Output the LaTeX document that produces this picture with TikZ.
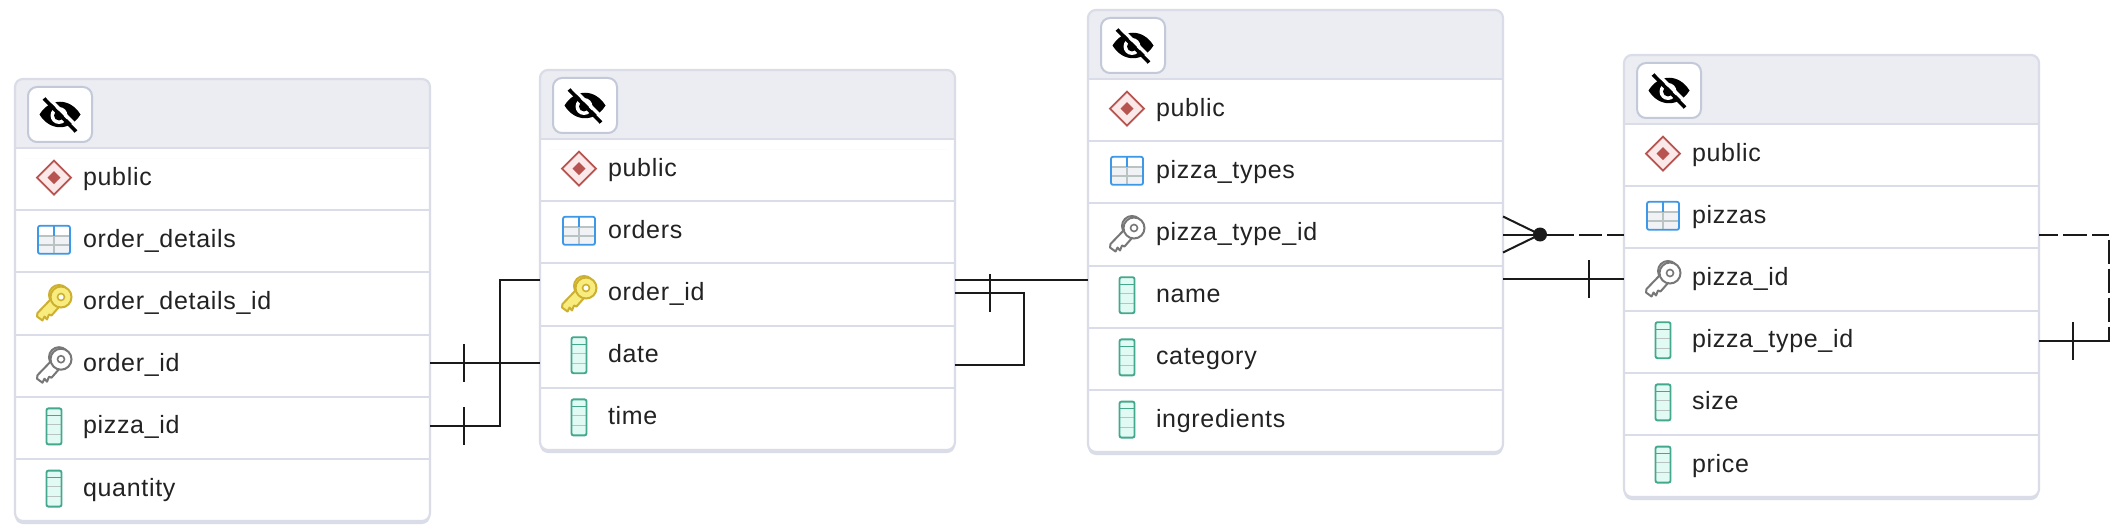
\documentclass[tikz,border=0pt]{standalone}
\usepackage{fontspec}
\setmainfont[LetterSpace=2.8]{Liberation Sans}
\definecolor{hdrfill}{HTML}{EBEDF2}
\definecolor{edge}{HTML}{DADDE7}
\definecolor{ink}{HTML}{222222}
\definecolor{wire}{HTML}{1A1A1A}
\definecolor{btn}{HTML}{C3C9D8}
\definecolor{teal}{HTML}{43A88C}
\definecolor{tealfill}{HTML}{E2FAF4}
\definecolor{rowgrey}{HTML}{B9C4C2}
\definecolor{redd}{HTML}{B85450}
\definecolor{redfill}{HTML}{FBE8E8}
\definecolor{bluee}{HTML}{3D98E8}
\definecolor{bluefill}{HTML}{F1F2F5}
\definecolor{greyy}{HTML}{777777}
\definecolor{yell}{HTML}{CDB02F}
\definecolor{yellfill}{HTML}{F8EC7E}
\newcommand{\keyshape}[2]{%
  \draw[#1,line width=2pt,fill=#2] (5,-7) circle[radius=10];
  \draw[#1,line width=2pt,fill=#2,line join=round] (-3,-3)--(-16.5,11)--(-17,14.5)--(-11.5,18.5)--(-9.5,14.5)--(-7,17.5)--(-5,12.5)--(-2.5,13.5)--(5,5)--cycle;
  \draw[#1,line width=2pt,fill=#2] (7,-5) circle[radius=10.5];
  \draw[#1,line width=1.6pt,fill=white] (7,-5) circle[radius=3.5];
}
\tikzset{
  x=1pt,y=-1pt,
  tablebox/.style={rectangle,rounded corners=8pt,minimum width=415pt,inner sep=0pt,fill=white,outer sep=0pt},
  hdrbox/.style={rectangle,rounded corners=8pt,minimum width=415pt,minimum height=79pt,inner sep=0pt,fill=hdrfill,outer sep=0pt},
  rowbox/.style={rectangle,minimum width=415pt,minimum height=62.2pt,text width=415pt,align=left,inner sep=0pt,outer sep=0pt,
    text height=18pt,text depth=6pt,text=ink,font=\fontsize{25}{30}\selectfont},
  sepline/.style={edge,line width=2pt},
  outline/.style={edge,line width=2.2pt,rounded corners=8pt},
  conn/.style={wire,line width=2pt,line join=miter},
  tickmark/.style={rectangle,fill=wire,inner sep=0pt,outer sep=0pt,minimum width=2pt,minimum height=38pt},
  crowdot/.style={circle,fill=wire,inner sep=0pt,minimum size=14pt},
  eyebtn/.style={rectangle,rounded corners=9pt,draw=btn,line width=2pt,fill=white,minimum width=64pt,minimum height=55pt,inner sep=0pt},
  schemaicon/.pic={
    \draw[redd,fill=redfill,line width=1.8pt,line join=miter] (-17,0)--(0,-17)--(17,0)--(0,17)--cycle;
    \fill[redd] (-6.5,0)--(0,-6.5)--(6.5,0)--(0,6.5)--cycle;
  },
  tblicon/.pic={
    \fill[bluefill,rounded corners=2pt] (-16,-14) rectangle (16,14);
    \fill[white] (-15,-13) rectangle (15,-5);
    \draw[rowgrey,line width=1.4pt] (-15,-4)--(15,-4) (-15,5)--(15,5) (0,-4)--(0,14);
    \draw[bluee,line width=1.6pt] (0,-14)--(0,-4);
    \draw[bluee,line width=1.8pt,rounded corners=2pt] (-16,-14) rectangle (16,14);
  },
  colicon/.pic={
    \fill[tealfill,rounded corners=2pt] (-7.5,-18) rectangle (7.5,18);
    \draw[teal,line width=1.2pt] (-7,-11)--(7,-11);
    \draw[rowgrey,line width=1.4pt] (-7,-2)--(7,-2) (-7,8)--(7,8);
    \draw[teal,line width=1.9pt,rounded corners=2pt] (-7.5,-18) rectangle (7.5,18);
  },
  keyg/.pic={\keyshape{greyy}{white}},
  keyy/.pic={\keyshape{yell}{yellfill}},
  eyeicon/.pic={
    \fill[black] (-20.5,0) .. controls (-10,-17) and (10,-17) .. (20.5,0) .. controls (10,17) and (-10,17) .. (-20.5,0) -- cycle;
    \fill[white] (-1,1) circle[radius=8.5];
    \fill[black] (-1,1) circle[radius=5];
    \draw[white,line width=3.5pt] (-13,-18)--(19,14);
    \draw[black,line width=3.6pt] (-16,-16)--(16,17);
  },
}
% name, left, top, height, rows
\newcommand{\dbtable}[5]{%
  \fill[edge,rounded corners=8pt] (#2,#3+3) rectangle (#2+415,#3+#4+3);
  \node[tablebox,minimum height=#4 pt,anchor=north west] (#1) at (#2,#3) {};
  \node[hdrbox,anchor=north west] (#1hdr) at (#2,#3) {};
  \fill[white] (#2,#3+69) rectangle (#2+415,#3+79);
  \node[eyebtn,anchor=north west] (#1btn) at (#2+12,#3+7) {};
  \pic at (#1btn.center) {eyeicon};
  \foreach \ic/\tx/\id [count=\n from 0] in {#5}{
    \node[rowbox,anchor=north west] (\id) at (#2,#3+69+62.2*\n) {\hspace*{68pt}\tx};
    \pic[xshift=39pt,yshift=1.5pt] at (\id.west) {\ic};
    \draw[sepline] (\id.north west)--(\id.north east);
  }
  \draw[outline] (#1.north west) rectangle (#1.south east);
}
\begin{document}
\begin{tikzpicture}
\useasboundingbox (0,0) rectangle (2122,532);
\fill[white] (0,0) rectangle (2122,532);
\dbtable{ta}{15}{79}{442}{schemaicon/public/aschema,tblicon/order\_details/atable,keyy/order\_details\_id/apk,keyg/order\_id/aorder,colicon/pizza\_id/apizza,colicon/quantity/aqty}
\dbtable{tb}{540}{70}{380}{schemaicon/public/bschema,tblicon/orders/btable,keyy/order\_id/bpk,colicon/date/bdate,colicon/time/btime}
\dbtable{tc}{1088}{10}{442}{schemaicon/public/cschema,tblicon/pizza\_types/ctable,keyg/pizza\_type\_id/cpk,colicon/name/cname,colicon/category/ccat,colicon/ingredients/cing}
\dbtable{td}{1624}{55}{442}{schemaicon/public/dschema,tblicon/pizzas/dtable,keyg/pizza\_id/dpk,colicon/pizza\_type\_id/dtype,colicon/size/dsize,colicon/price/dprice}
% order_details to orders
\coordinate (m1) at ([yshift=2.6pt]aorder.east);
\draw[conn] (m1) -- node[tickmark,pos=.31]{} (m1 -| bdate.west);
\coordinate (m3) at ([yshift=2.3pt]apizza.east);
\coordinate (m4) at ([yshift=14.4pt]bpk.west);
\draw[conn] (m3) -- node[tickmark,pos=.49]{} ([xshift=70pt]m3) -- ([xshift=70pt]m3 |- m4) -- (m4);
% orders to pizza_types
\coordinate (n1) at ([yshift=14.4pt]bpk.east);
\draw[conn] (n1) -- (n1 -| cname.west);
\coordinate (n2) at ([yshift=1.4pt]bpk.east);
\coordinate (n3) at ([yshift=-8.4pt]bdate.east);
\draw[conn] (n2) -- node[tickmark,pos=.5]{} ([xshift=69pt]n2) -- ([xshift=69pt]n3) -- (n3);
% pizza_types to pizzas
\coordinate (p1) at ([yshift=-17.2pt]dtable.west);
\coordinate (p2) at (p1 -| cpk.east);
\node[crowdot] (crow) at ([xshift=37pt]p2) {};
\draw[conn,dash pattern=on 71pt off 5pt on 23pt off 5pt on 18pt off 99pt] (p2) -- (p1);
\draw[conn] ([yshift=18pt]p2) -- (crow.center) -- ([yshift=-18pt]p2);
\coordinate (p3) at ([yshift=.4pt]dpk.west);
\coordinate (p4) at (p3 -| cname.east);
\draw[conn] (p4) -- node[tickmark,pos=.71]{} (p3);
% pizzas to pizzas
\coordinate (q1) at (dtable.east |- p1);
\coordinate (q2) at ([yshift=.6pt]dtype.east);
\coordinate (q3) at ([xshift=70pt]q1);
\coordinate (q4) at (q3 |- q2);
\draw[conn,dash pattern=on 19pt off 5pt on 24pt off 5pt on 17pt off 5pt on 24pt off 5pt on 24pt off 5pt on 24pt off 5pt on 90pt off 99pt] (q1) -- (q3) -- (q4) -- (q2);
\node[tickmark] (qtick) at ([xshift=34pt]q2) {};
\end{tikzpicture}
\end{document}
